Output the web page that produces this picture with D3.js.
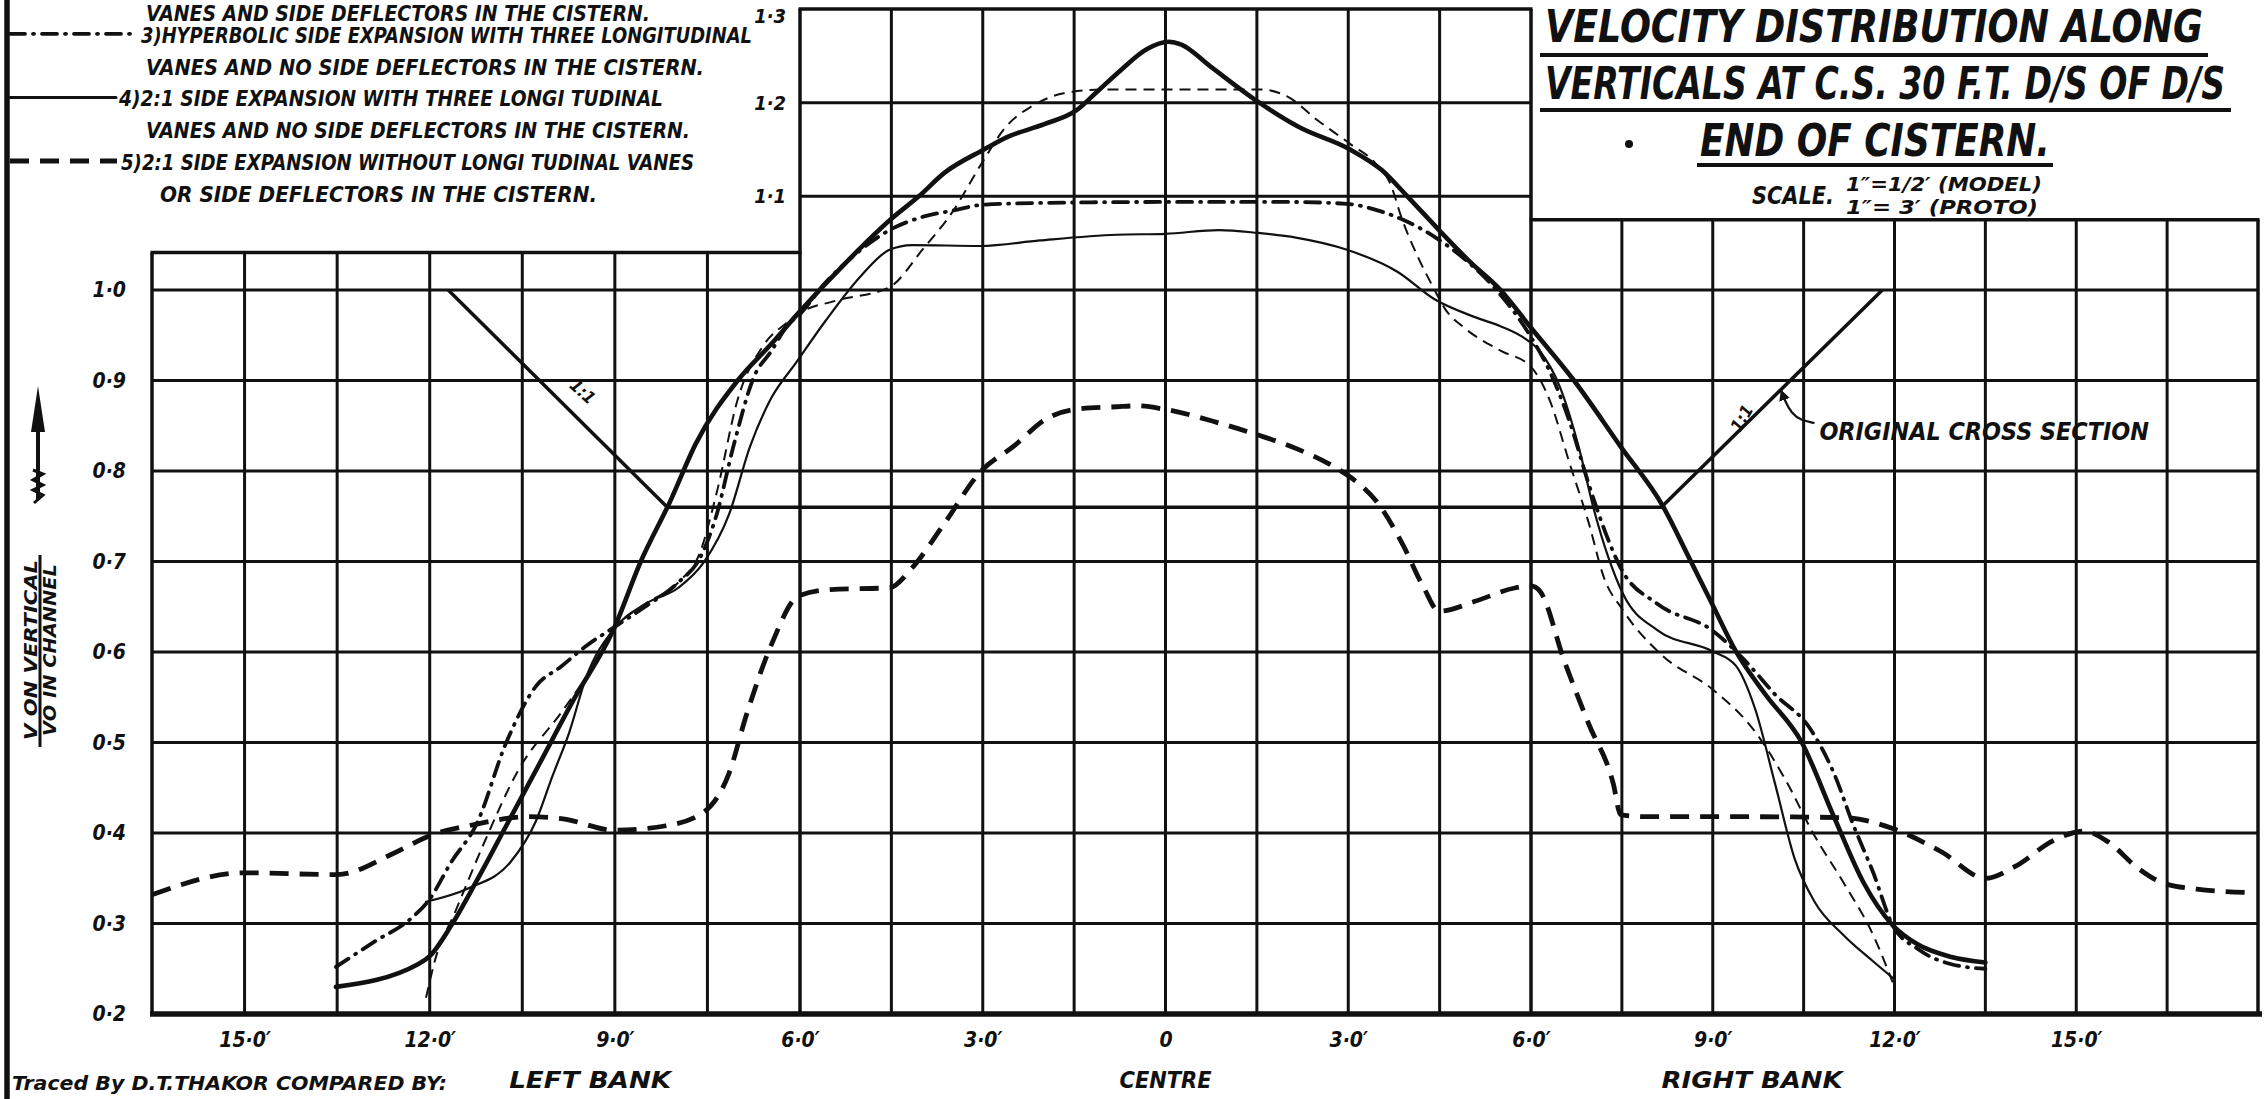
<!DOCTYPE html>
<html><head><meta charset="utf-8">
<script src="https://cdn.jsdelivr.net/npm/d3@7"></script>
<style>
html,body{margin:0;padding:0;background:#fff;}
svg{display:block;background:#fff;}
text{font-family:"DejaVu Sans Condensed","Liberation Sans Narrow","Liberation Sans",sans-serif;font-weight:bold;font-style:italic;fill:#111;}
</style></head><body>
<svg id="chart" width="2264" height="1099"></svg>
<script>
// ---------------- DATA ----------------
const xTickValues = [-15,-12,-9,-6,-3,0,3,6,9,12,15];
const xTickLabels = ["15·0′","12·0′","9·0′","6·0′","3·0′","0","3·0′","6·0′","9·0′","12·0′","15·0′"];
const yTickValues = [1.0,0.9,0.8,0.7,0.6,0.5,0.4,0.3,0.2];
const yTickLabels = ["1·0","0·9","0·8","0·7","0·6","0·5","0·4","0·3","0·2"];
const yBoxTickValues = [1.3,1.2,1.1];
const yBoxTickLabels = ["1·3","1·2","1·1"];
const gridX = [-16.5,-15,-13.5,-12,-10.5,-9,-7.5,-6,-4.5,-3,-1.5,0,1.5,3,4.5,6,7.5,9,10.5,12,13.5,15,16.5,18];
const gridYMain = [0.3,0.4,0.5,0.6,0.7,0.8,0.9,1.0];
const gridYBox = [1.1,1.2];
const xMin = -16.5, xMax = 18, yBottom = 0.2;
const boxLeft = -6, boxRight = 6;
const topLeft = 1.04, topBox = 1.3, topRight = 1.075;

// Series 1: thick solid
const s1X = [-13.52,-12.19,-12.0,-11.65,-11.24,-10.76,-10.21,-9.67,-9.02,-8.58,-8.1,-7.69,-7.01,-6.47,-6.02,-5.25,-4.5,-4.05,-3.63,-2.98,-2.61,-1.99,-1.46,-1.15,-0.73,-0.31,0.05,0.26,0.73,1.54,2.19,3.03,3.55,3.97,4.49,5.0,5.5,5.98,6.71,7.48,8.17,8.61,8.99,9.38,9.87,10.47,11.0,11.49,11.97,12.38,12.94,13.5];
const s1Y = [0.23,0.255,0.264,0.298,0.347,0.408,0.478,0.547,0.625,0.70,0.767,0.83,0.90,0.94,0.975,1.029,1.076,1.10,1.125,1.15,1.163,1.177,1.192,1.21,1.235,1.257,1.265,1.262,1.239,1.20,1.174,1.15,1.128,1.10,1.064,1.03,1.0,0.96,0.90,0.827,0.762,0.704,0.653,0.601,0.553,0.50,0.418,0.345,0.298,0.277,0.263,0.257];
// Series 2: thin dashed
const s2X = [-12.06,-11.92,-11.58,-11.1,-10.56,-9.87,-9.46,-9.02,-8.51,-7.97,-7.62,-7.35,-7.01,-6.6,-6.19,-6.02,-5.42,-4.53,-3.99,-3.48,-3.02,-2.61,-2.2,-1.67,-1.04,0,1.57,1.99,2.5,3.03,3.45,3.7,3.87,4.16,4.41,4.58,4.91,5.5,6.0,6.31,6.63,6.96,7.2,7.52,8.17,8.99,9.71,10.19,10.68,11.16,11.65,11.97];
const s2Y = [0.218,0.258,0.314,0.392,0.47,0.533,0.573,0.625,0.653,0.677,0.71,0.776,0.879,0.938,0.965,0.974,0.988,1.003,1.043,1.085,1.135,1.175,1.196,1.21,1.214,1.214,1.214,1.207,1.181,1.156,1.135,1.112,1.078,1.033,1.001,0.98,0.958,0.933,0.915,0.878,0.81,0.741,0.683,0.646,0.596,0.559,0.511,0.46,0.397,0.345,0.287,0.235];
// Series 3: dash-dot
const s3X = [-13.52,-12.87,-12.33,-12.0,-11.65,-11.24,-10.76,-10.28,-9.87,-9.46,-9.02,-8.51,-7.97,-7.62,-7.35,-7.08,-6.74,-6.47,-6.19,-6.02,-5.58,-5.0,-4.53,-3.99,-3.48,-3.0,-2.0,0,2.0,2.98,3.48,3.9,4.41,4.91,5.42,5.98,6.31,6.63,6.96,7.24,7.48,8.09,8.99,9.54,10.03,10.6,11.0,11.32,11.65,11.97,12.38,12.94,13.5];
const s3Y = [0.252,0.281,0.304,0.327,0.368,0.41,0.50,0.562,0.584,0.607,0.627,0.65,0.677,0.704,0.752,0.827,0.905,0.932,0.962,0.972,1.008,1.043,1.064,1.078,1.085,1.091,1.093,1.094,1.094,1.092,1.085,1.075,1.057,1.033,1.001,0.95,0.91,0.856,0.784,0.73,0.693,0.653,0.624,0.59,0.553,0.516,0.466,0.409,0.356,0.298,0.272,0.255,0.25];
// Series 4: thin solid
const s4X = [-12.06,-11.37,-10.69,-10.28,-10.01,-9.74,-9.46,-9.02,-8.51,-7.97,-7.56,-7.15,-6.81,-6.47,-6.06,-5.58,-5.0,-4.53,-4.16,-3.04,-2.06,-0.8,0,0.88,1.51,2.14,2.98,3.82,4.41,5.08,5.5,5.84,6.15,6.47,6.79,7.04,7.28,7.52,8.09,8.99,9.38,9.7,10.03,10.35,10.68,11.16,11.65,11.97];
const s4Y = [0.324,0.339,0.368,0.413,0.463,0.511,0.573,0.625,0.653,0.671,0.699,0.752,0.827,0.88,0.92,0.966,1.015,1.043,1.048,1.047,1.053,1.059,1.06,1.064,1.061,1.056,1.043,1.019,0.99,0.97,0.96,0.949,0.932,0.894,0.826,0.757,0.704,0.664,0.624,0.601,0.585,0.537,0.454,0.372,0.324,0.287,0.258,0.24];
// Series 5: heavy dashed
const s5X = [-16.49,-15,-13.5,-12.6,-12,-11.3,-10.42,-9.87,-9,-8.17,-7.56,-7.15,-6.87,-6.47,-6.02,-5.5,-4.53,-4.16,-3.65,-3.04,-2.48,-1.97,-1.5,-0.8,-0.46,0,0.88,1.51,2.14,2.81,3.06,3.48,3.9,4.24,4.49,5.08,5.75,6.0,6.15,6.55,6.95,7.36,7.48,7.93,9.54,11.16,11.97,12.78,13.5,13.99,14.63,15.13,15.53,16.02,16.42,16.99,17.96];
const s5Y = [0.332,0.356,0.354,0.377,0.397,0.409,0.418,0.416,0.403,0.408,0.423,0.466,0.53,0.607,0.662,0.669,0.671,0.693,0.74,0.799,0.828,0.857,0.868,0.871,0.872,0.868,0.853,0.84,0.825,0.803,0.792,0.765,0.718,0.671,0.645,0.656,0.671,0.673,0.667,0.59,0.521,0.454,0.42,0.418,0.418,0.417,0.405,0.379,0.35,0.363,0.392,0.402,0.39,0.361,0.345,0.338,0.334];
// Original cross section
const csX = [-11.7,-8.15,8.15,11.8];
const csY = [1.0,0.76,0.76,1.0];
// Leader for cross-section label
const leaderX = [10.68,10.45,10.3,10.2,10.13];
const leaderY = [0.853,0.856,0.864,0.876,0.889];

const legendText = [
  "VANES AND SIDE DEFLECTORS IN THE CISTERN.",
  "3)HYPERBOLIC SIDE EXPANSION WITH THREE LONGITUDINAL",
  "VANES AND NO SIDE DEFLECTORS IN THE CISTERN.",
  "4)2:1 SIDE EXPANSION WITH THREE LONGI TUDINAL",
  "VANES AND NO SIDE DEFLECTORS IN THE CISTERN.",
  "5)2:1 SIDE EXPANSION WITHOUT LONGI TUDINAL VANES",
  "OR SIDE DEFLECTORS IN THE CISTERN."
];
const titleLines = ["VELOCITY DISTRIBUTION  ALONG","VERTICALS AT C.S. 30 F.T. D/S OF D/S","END OF CISTERN."];
const scaleLabel = "SCALE.";
const scaleLines = ["1″=1/2′ (MODEL)","1″= 3′ (PROTO)"];
const bankLabels = ["LEFT  BANK","CENTRE","RIGHT  BANK"];
const bankAt = [-9.4,0,9.65];
const yTitleTop = "V ON VERTICAL";
const yTitleBottom = "VO IN CHANNEL";
const crossLabel = "ORIGINAL CROSS SECTION";
const slopeLabel = "1:1";
const tracedText = "Traced By   D.T.THAKOR    COMPARED BY:";

// ---------------- DRAW ----------------
const INK = "#111";
const svg = d3.select("#chart");
const x = d3.scaleLinear().domain([xMin,boxLeft,boxRight,xMax]).range([152,800,1531,2258]);
const y = d3.scaleLinear().domain([yBottom,1.0,topBox]).range([1014,290,9]);
const zip = (a,b)=>a.map((v,i)=>[v,b[i]]);

// drawing border at left
svg.append("line").attr("x1",7).attr("x2",7).attr("y1",0).attr("y2",1099)
  .attr("stroke",INK).attr("stroke-width",5.5);

const g = svg.append("g");
function topAt(v){ return v < boxLeft ? topLeft : (v > boxRight ? topRight : topBox); }
// vertical grid lines
g.selectAll("line.vg").data(gridX).enter().append("line")
  .attr("x1",d=>x(d)).attr("x2",d=>x(d))
  .attr("y1",y(yBottom)).attr("y2",d=>y(topAt(d)))
  .attr("stroke",INK).attr("stroke-width",d=>(d===xMin||d===xMax||d===boxLeft||d===boxRight)?3.5:3);
// horizontal grid lines
g.selectAll("line.hg").data(gridYMain).enter().append("line")
  .attr("x1",x(xMin)).attr("x2",x(xMax)).attr("y1",d=>y(d)).attr("y2",d=>y(d))
  .attr("stroke",INK).attr("stroke-width",3);
g.selectAll("line.hb").data(gridYBox).enter().append("line")
  .attr("x1",x(boxLeft)).attr("x2",x(boxRight)).attr("y1",d=>y(d)).attr("y2",d=>y(d))
  .attr("stroke",INK).attr("stroke-width",3);
// top frame segments
[[xMin,boxLeft,topLeft],[boxLeft,boxRight,topBox],[boxRight,xMax,topRight]].forEach(s=>{
  g.append("line").attr("x1",x(s[0])-1.5).attr("x2",x(s[1])+1.5).attr("y1",y(s[2])).attr("y2",y(s[2]))
   .attr("stroke",INK).attr("stroke-width",3.5);
});
// bottom axis line
g.append("line").attr("x1",x(xMin)-2).attr("x2",x(xMax)+4).attr("y1",y(yBottom)).attr("y2",y(yBottom))
  .attr("stroke",INK).attr("stroke-width",5.5);

// x tick labels via axis
const xAxis = d3.axisBottom(x).tickValues(xTickValues).tickFormat((d,i)=>xTickLabels[i]).tickSize(0).tickPadding(0);
const xa = svg.append("g").attr("transform",`translate(0,${y(yBottom)+27})`).call(xAxis);
xa.select(".domain").remove();
xa.selectAll("text").attr("font-size",21).attr("fill",INK).attr("dy","0.3em").attr("font-family",null);
// y tick labels via axis
const yAxis = d3.axisLeft(y).tickValues(yTickValues).tickFormat((d,i)=>yTickLabels[i]).tickSize(0).tickPadding(0);
const ya = svg.append("g").attr("transform","translate(126,0)").call(yAxis);
ya.select(".domain").remove();
ya.selectAll("text").attr("font-size",21).attr("fill",INK).attr("font-family",null);
const yAxisB = d3.axisLeft(y).tickValues(yBoxTickValues).tickFormat((d,i)=>yBoxTickLabels[i]).tickSize(0).tickPadding(0);
const yb = svg.append("g").attr("transform",`translate(${x(boxLeft)-14},0)`).call(yAxisB);
yb.select(".domain").remove();
yb.selectAll("text").attr("font-size",20).attr("fill",INK).attr("font-family",null)
  .attr("dy",d=>d===topBox?"0.66em":"0.32em");

// bank labels
const bankW = [162,92,181];
svg.selectAll("text.bank").data(bankLabels).enter().append("text")
  .attr("x",(d,i)=>x(bankAt[i])).attr("y",1088).attr("text-anchor","middle")
  .attr("font-size",23).attr("textLength",(d,i)=>bankW[i]).attr("lengthAdjust","spacingAndGlyphs").text(d=>d);

// original cross section
const lineGen = d3.line().x(d=>x(d[0])).y(d=>y(d[1]));
svg.append("path").attr("d",lineGen(zip(csX,csY))).attr("fill","none")
  .attr("stroke",INK).attr("stroke-width",3.5).attr("stroke-linejoin","round");

// series styles
const styles = [
  {w:4.6, dash:null, cap:"round"},
  {w:2.0, dash:"11,7", cap:"butt"},
  {w:3.8, dash:"15,8,1,8", cap:"round"},
  {w:2.2, dash:null, cap:"round"},
  {w:4.8, dash:"19,11", cap:"butt"}
];
const series = [zip(s1X,s1Y),zip(s2X,s2Y),zip(s3X,s3Y),zip(s4X,s4Y),zip(s5X,s5Y)];
const curve = d3.line().x(d=>x(d[0])).y(d=>y(d[1])).curve(d3.curveMonotoneX);
series.forEach((s,i)=>{
  const st = styles[i];
  const p = svg.append("path").attr("d",curve(s)).attr("fill","none").attr("stroke",INK)
    .attr("stroke-width",st.w).attr("stroke-linecap",st.cap).attr("stroke-linejoin","round");
  if(st.dash) p.attr("stroke-dasharray",st.dash);
});

// cross-section annotations
svg.append("text").attr("x",x(10.76)).attr("y",y(0.834)).attr("font-size",25)
  .attr("textLength",x(16.2)-x(10.76)).attr("lengthAdjust","spacingAndGlyphs").text(crossLabel);
svg.append("defs").append("marker").attr("id","ah").attr("viewBox","0 0 10 10").attr("refX",9).attr("refY",5)
  .attr("markerWidth",5).attr("markerHeight",5).attr("orient","auto")
  .append("path").attr("d","M0,0L10,5L0,10Z").attr("fill",INK);
svg.append("path").attr("d",d3.line().x(d=>x(d[0])).y(d=>y(d[1])).curve(d3.curveBasis)(zip(leaderX,leaderY)))
  .attr("fill","none").attr("stroke",INK).attr("stroke-width",2.2).attr("marker-end","url(#ah)");
svg.append("text").attr("transform",`translate(${x(-9.75)},${y(0.893)}) rotate(42)`).attr("font-size",17).text(slopeLabel);
svg.append("text").attr("transform",`translate(${x(9.45)},${y(0.842)}) rotate(-60)`).attr("font-size",17).text(slopeLabel);

// legend
const legendX0 = [146,141,146,119,146,121,160];
const legendX1 = [650,752,704,663,690,694,597];
const rowY = i => 2 + 31.8*i;
svg.selectAll("text.leg").data(legendText).enter().append("text")
  .attr("transform",(d,i)=>`translate(${legendX0[i]},${Math.max(rowY(i)+9,21)}) scale(1,1.1)`)
  .attr("font-size",20).attr("textLength",(d,i)=>legendX1[i]-legendX0[i]).attr("lengthAdjust","spacingAndGlyphs")
  .text(d=>d);
const legendSample = [{row:1,s:2,x1:136},{row:3,s:3,x1:116},{row:5,s:4,x1:117}];
legendSample.forEach(l=>{
  const st = styles[l.s];
  const p = svg.append("line").attr("x1",10).attr("x2",l.x1).attr("y1",rowY(l.row)).attr("y2",rowY(l.row))
    .attr("stroke",INK).attr("stroke-width",l.s===3?3:st.w).attr("stroke-linecap",st.cap);
  if(st.dash) p.attr("stroke-dasharray",st.dash);
});

// title block
const tl = [{x0:1545,x1:2203,b:42,u:55,ux0:1540,ux1:2208},
            {x0:1545,x1:2225,b:99,u:110,ux0:1540,ux1:2231},
            {x0:1700,x1:2050,b:156,u:165,ux0:1697,ux1:2053}];
titleLines.forEach((t,i)=>{
  const L = tl[i];
  svg.append("text").attr("transform",`translate(${L.x0},${L.b}) scale(1,1.32)`).attr("x",0).attr("y",0)
    .attr("font-size",33).attr("textLength",L.x1-L.x0).attr("lengthAdjust","spacingAndGlyphs").text(t);
  svg.append("line").attr("x1",L.ux0).attr("x2",L.ux1).attr("y1",L.u).attr("y2",L.u).attr("stroke",INK).attr("stroke-width",4);
});
svg.append("text").attr("x",1752).attr("y",204).attr("font-size",24).attr("textLength",82).attr("lengthAdjust","spacingAndGlyphs").text(scaleLabel);
svg.append("text").attr("x",1846).attr("y",191).attr("font-size",19).attr("textLength",196).attr("lengthAdjust","spacingAndGlyphs").text(scaleLines[0]);
svg.append("text").attr("x",1846).attr("y",214).attr("font-size",19).attr("textLength",192).attr("lengthAdjust","spacingAndGlyphs").text(scaleLines[1]);
svg.append("circle").attr("cx",1629).attr("cy",144).attr("r",4).attr("fill",INK);

// y-axis title (fraction) and arrow
svg.append("text").attr("transform","translate(37,650) rotate(-90)").attr("text-anchor","middle")
  .attr("font-size",18).attr("textLength",180).attr("lengthAdjust","spacingAndGlyphs").text(yTitleTop);
svg.append("line").attr("x1",40).attr("x2",40).attr("y1",555).attr("y2",747).attr("stroke",INK).attr("stroke-width",3);
svg.append("text").attr("transform","translate(56,650) rotate(-90)").attr("text-anchor","middle")
  .attr("font-size",18).attr("textLength",172).attr("lengthAdjust","spacingAndGlyphs").text(yTitleBottom);
svg.append("line").attr("x1",38).attr("x2",38).attr("y1",420).attr("y2",500).attr("stroke",INK).attr("stroke-width",4);
svg.append("path").attr("d","M38,386 L31,432 L45,432 Z").attr("fill",INK);
svg.append("path").attr("d","M33,470 L43,474 L33,480 L43,485 L33,490 L43,495 L34,503").attr("fill","none").attr("stroke",INK).attr("stroke-width",3);

// traced by (bottom-left note)
svg.append("text").attr("x",12).attr("y",1090).attr("font-size",19).attr("textLength",435).attr("lengthAdjust","spacingAndGlyphs").text(tracedText);
</script>
</body></html>
